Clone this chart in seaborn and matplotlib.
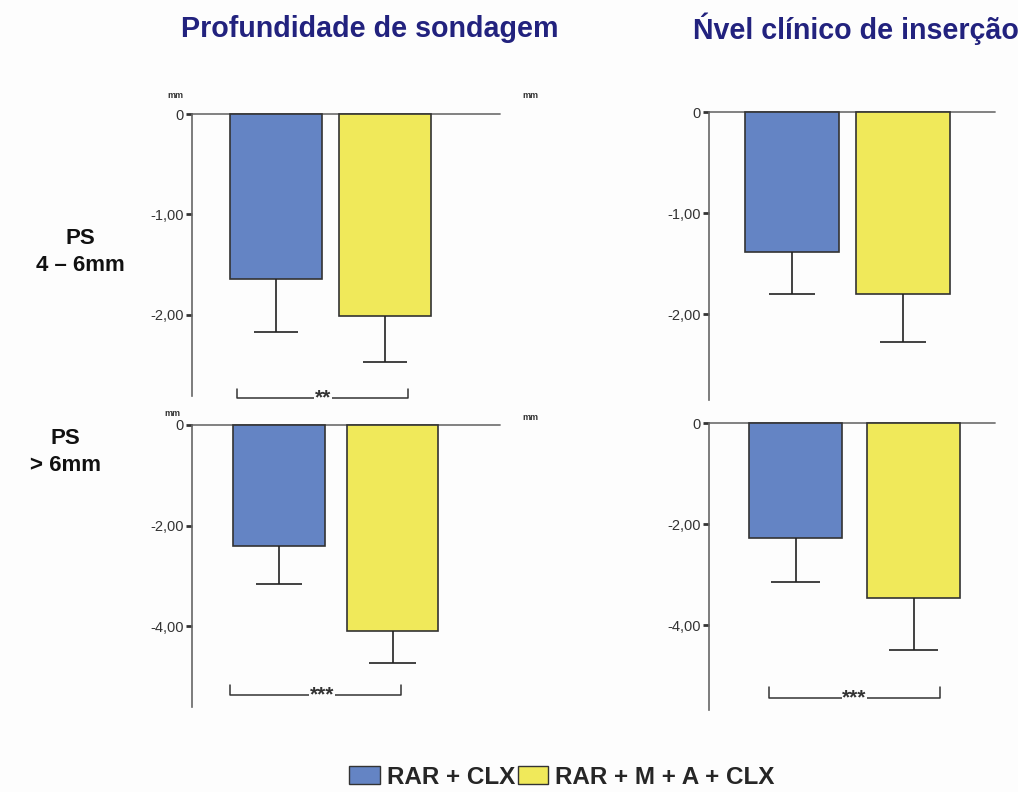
import numpy as np
import pandas as pd
import matplotlib
matplotlib.use("Agg")
import matplotlib.pyplot as plt
from matplotlib.patches import Patch
from matplotlib.ticker import FuncFormatter
import seaborn as sns

# ---- data ----
groups = ["RAR + CLX", "RAR + M + A + CLX"]
colors = ["#6484c4", "#f0e95a"]

pd_46_mean = [-1.64, -2.01]
pd_46_sd = [0.53, 0.46]
nci_46_mean = [-1.39, -1.80]
nci_46_sd = [0.41, 0.48]
pd_6_mean = [-2.40, -4.10]
pd_6_sd = [0.76, 0.64]
nci_6_mean = [-2.28, -3.47]
nci_6_sd = [0.87, 1.03]

ticks_46 = [0, -1, -2]
ticks_6 = [0, -2, -4]

col_titles = ["Profundidade de sondagem", "Ńvel clínico de inserção"]
row_labels = ["PS\n4 – 6mm", "PS\n> 6mm"]

sns.set_style("white")
plt.rcParams['font.family'] = ['Liberation Sans', 'DejaVu Sans']

W, H = 1018, 792
fig = plt.figure(figsize=(W / 100, H / 100), dpi=100)
fig.patch.set_facecolor("#fdfdfd")


def px_axes(left, right, top, bottom):
    return fig.add_axes([left / W, 1 - bottom / H, (right - left) / W, (bottom - top) / H])


def fmt(v, pos):
    if abs(v) < 1e-9:
        return "0"
    return f"{v:.2f}".replace(".", ",")


# panel: (pixel box, xlim, ymin, bar width, means, sds, ticks, bracket)
panels = [
    ((192, 500, 114, 396), (-0.771, 2.055), -2.81, 0.845, pd_46_mean, pd_46_sd, ticks_46,
     (-0.36, 1.21, -2.83, -2.74, 0.43, "**")),
    ((709, 995, 112, 400), (-0.748, 1.83), -2.85, 0.85, nci_46_mean, nci_46_sd, ticks_46, None),
    ((192, 500, 425, 707), (-0.767, 1.947), -5.61, 0.81, pd_6_mean, pd_6_sd, ticks_6,
     (-0.43, 1.075, -5.37, -5.17, 0.38, "***")),
    ((709, 995, 423, 710), (-0.733, 1.69), -5.68, 0.79, nci_6_mean, nci_6_sd, ticks_6,
     (-0.225, 1.22, -5.45, -5.23, 0.5, "***")),
]

cap_half = 0.205  # half width of the error bar caps, in bar-spacing units

for box, xlim, ymin, width, means, sds, ticks, bracket in panels:
    ax = px_axes(*box)
    ax.set_facecolor("none")
    df = pd.DataFrame({"grupo": groups, "valor": means})
    sns.barplot(data=df, x="grupo", y="valor", hue="grupo", palette=colors,
                saturation=1, width=width, edgecolor="#333333", linewidth=1.2,
                legend=False, ax=ax)
    for p in ax.patches:
        p.set_clip_on(False)

    # one-sided (downward) error bars
    xs = np.arange(len(means))
    lows = np.array(means) - np.array(sds)
    ax.vlines(xs, means, lows, color="#222222", lw=1.2, clip_on=False)
    ax.hlines(lows, xs - cap_half, xs + cap_half, color="#222222", lw=1.2, clip_on=False)

    ax.axhline(0, color="#777777", lw=1.3, clip_on=False, zorder=0.5)
    ax.set_xlim(*xlim)
    ax.set_ylim(ymin, 0)
    ax.set_yticks(ticks)
    ax.yaxis.set_major_formatter(FuncFormatter(fmt))
    ax.tick_params(axis="y", direction="out", length=4, width=2, color="#333333",
                   labelsize=10.5, labelcolor="#333333", pad=2, left=True)
    ax.set_xticks([])
    ax.set_xlabel("")
    ax.set_ylabel("")
    for s in ["top", "right", "bottom"]:
        ax.spines[s].set_visible(False)
    ax.spines["left"].set_color("#666666")
    ax.spines["left"].set_linewidth(1.2)
    if bracket is not None:
        x0, x1, yb, yt, xsx, stars = bracket
        ax.plot([x0, x0, x1, x1], [yt, yb, yb, yt], color="#333333", lw=1.1, clip_on=False)
        ax.text(xsx, yb, stars, ha="center", va="center", fontsize=15,
                fontweight="bold", color="#333333", clip_on=False,
                bbox=dict(facecolor="#fdfdfd", edgecolor="none", pad=0.5))

# "mm" unit labels
for x, y in [(175, 95), (530, 95), (172, 413), (530, 418)]:
    fig.text(x / W, 1 - y / H, "mm", fontsize=6.5, fontweight="bold",
             color="#333333", ha="center", va="center")

# column titles
for x, t in zip([370, 856], col_titles):
    fig.text(x / W, 1 - 29 / H, t, fontsize=20.6, fontweight="bold", color="#22227e",
             ha="center", va="center")

# row labels
for (x, y), t in zip([(80, 252), (65, 452)], row_labels):
    fig.text(x / W, 1 - y / H, t, fontsize=16, fontweight="bold", color="#111111",
             ha="center", va="center", linespacing=1.35)

# legend
handles = [Patch(facecolor=c, edgecolor="#333333", lw=1) for c in colors]
fig.legend(handles, groups, loc="center", bbox_to_anchor=(562 / W, 1 - 777 / H),
           ncol=2, frameon=False, handlelength=1.25, handleheight=0.75,
           handletextpad=0.3, columnspacing=0.1,
           prop={"weight": "bold", "size": 17.5})

fig.savefig("out.png", dpi=100, facecolor=fig.get_facecolor())
